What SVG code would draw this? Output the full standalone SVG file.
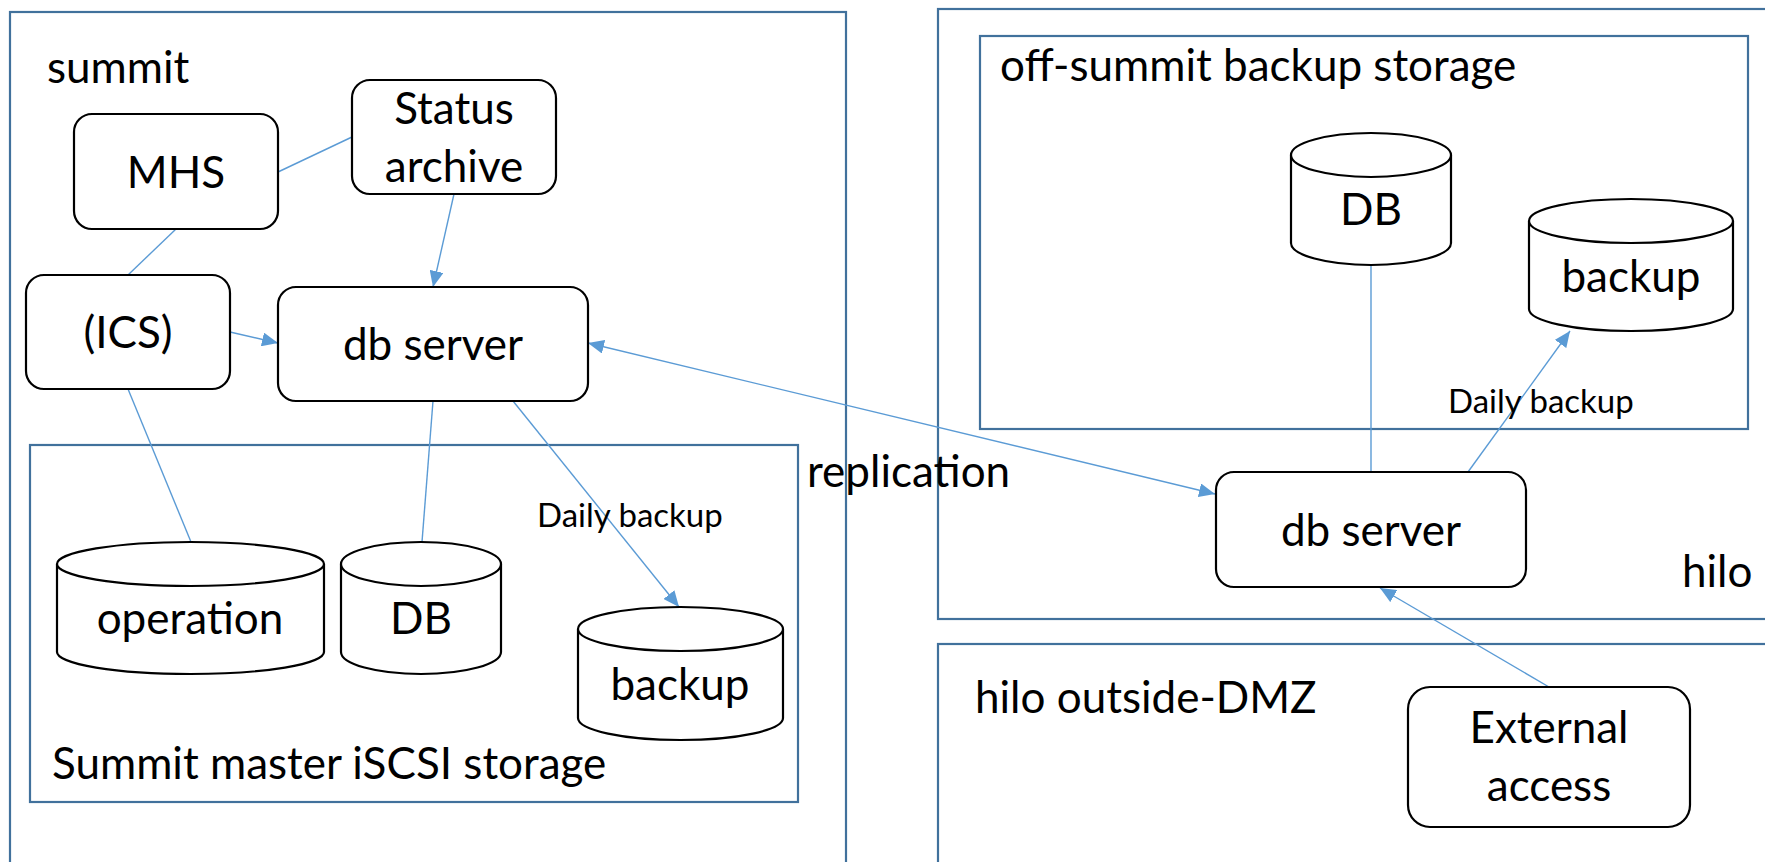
<svg xmlns="http://www.w3.org/2000/svg" width="1765" height="862" viewBox="0 0 1765 862">
<defs>
<style>
.zone{fill:none;stroke:#41719c;stroke-width:2.2}
.box{fill:#fff;stroke:#000;stroke-width:2.2}
.cyl{fill:#fff;stroke:#000;stroke-width:2.2}
.lbl{font-family:Lato,"Liberation Sans",sans-serif;font-size:44px;fill:#000}
.c{text-anchor:middle}
.sm{font-family:Lato,"Liberation Sans",sans-serif;font-size:33px;fill:#000}
.con{fill:none;stroke:#5b9bd5;stroke-width:1.4}
</style>
<marker id="ah" viewBox="0 0 10 10" refX="10" refY="5" markerWidth="11" markerHeight="11" markerUnits="userSpaceOnUse" orient="auto-start-reverse">
<path d="M0,0 L10,5 L0,10 z" fill="#5b9bd5"/>
</marker>
<marker id="ah2" viewBox="0 0 10 10" refX="10" refY="5" markerWidth="16" markerHeight="14" markerUnits="userSpaceOnUse" orient="auto-start-reverse" preserveAspectRatio="none">
<path d="M0,0 L10,5 L0,10 z" fill="#5b9bd5"/>
</marker>
</defs>
<rect width="1765" height="862" fill="#fff"/>

<g id="zone-summit">
<rect class="zone" x="10" y="12" width="836" height="880"/>
<text class="lbl" x="47" y="83">summit</text>
</g>
<g id="zone-iscsi">
<rect class="zone" x="30" y="445" width="768" height="357"/>
<text class="lbl" x="52" y="779">Summit master iSCSI storage</text>
</g>
<g id="zone-hilo">
<rect class="zone" x="938" y="9" width="860" height="610"/>
<text class="lbl" x="1682" y="587">hilo</text>
</g>
<g id="zone-offsummit">
<rect class="zone" x="980" y="36" width="768" height="393"/>
<text class="lbl" x="1000" y="81">off-summit backup storage</text>
</g>
<g id="zone-dmz">
<rect class="zone" x="938" y="644" width="860" height="260"/>
<text class="lbl" x="975" y="713">hilo outside-DMZ</text>
</g>

<g id="connectors">
<line class="con" x1="278" y1="172" x2="352" y2="137"/>
<line class="con" x1="176" y1="229" x2="128" y2="275"/>
<line class="con" x1="230" y1="332" x2="278" y2="343" marker-end="url(#ah2)"/>
<line class="con" x1="454" y1="194" x2="433" y2="287" marker-end="url(#ah2)"/>
<line class="con" x1="128" y1="389" x2="191" y2="542"/>
<line class="con" x1="433" y1="401" x2="422" y2="542"/>
<line class="con" x1="513" y1="401" x2="679" y2="607" marker-end="url(#ah2)"/>
<line class="con" x1="588" y1="343" x2="1215" y2="494" marker-start="url(#ah2)" marker-end="url(#ah2)"/>
<line class="con" x1="1371" y1="265" x2="1371" y2="472"/>
<line class="con" x1="1468" y1="472" x2="1570" y2="331" marker-end="url(#ah2)"/>
<line class="con" x1="1549" y1="687" x2="1380" y2="588" marker-end="url(#ah2)"/>
<text class="sm" x="537" y="527">Daily backup</text>
<text class="sm" x="1448" y="413">Daily backup</text>
<text class="lbl" x="807" y="487">replication</text>
</g>

<g id="node-mhs">
<rect class="box" x="74" y="114" width="204" height="115" rx="18"/>
<text class="lbl c" x="176" y="188">MHS</text>
</g>
<g id="node-status">
<rect class="box" x="352" y="80" width="204" height="114" rx="18"/>
<text class="lbl c" x="454" y="124">Status</text>
<text class="lbl c" x="454" y="182">archive</text>
</g>
<g id="node-ics">
<rect class="box" x="26" y="275" width="204" height="114" rx="18"/>
<text class="lbl c" x="128" y="348">(ICS)</text>
</g>
<g id="node-dbserver-summit">
<rect class="box" x="278" y="287" width="310" height="114" rx="18"/>
<text class="lbl c" x="433" y="360">db server</text>
</g>
<g id="node-operation">
<path class="cyl" d="M57,564 A133.5,22 0 0 1 324,564 V652 A133.5,22 0 0 1 57,652 Z"/>
<path class="cyl" fill="none" d="M57,564 A133.5,22 0 0 0 324,564"/>
<text class="lbl c" x="190" y="634">operation</text>
</g>
<g id="node-db-summit">
<path class="cyl" d="M341,564 A80,22 0 0 1 501,564 V652 A80,22 0 0 1 341,652 Z"/>
<path class="cyl" d="M341,564 A80,22 0 0 0 501,564"/>
<text class="lbl c" x="421" y="634">DB</text>
</g>
<g id="node-backup-summit">
<path class="cyl" d="M578,629 A102.5,22 0 0 1 783,629 V718 A102.5,22 0 0 1 578,718 Z"/>
<path class="cyl" d="M578,629 A102.5,22 0 0 0 783,629"/>
<text class="lbl c" x="680" y="700">backup</text>
</g>
<g id="node-db-offsummit">
<path class="cyl" d="M1291,155 A80,22 0 0 1 1451,155 V243 A80,22 0 0 1 1291,243 Z"/>
<path class="cyl" d="M1291,155 A80,22 0 0 0 1451,155"/>
<text class="lbl c" x="1371" y="225">DB</text>
</g>
<g id="node-backup-offsummit">
<path class="cyl" d="M1529,221 A102,22 0 0 1 1733,221 V309 A102,22 0 0 1 1529,309 Z"/>
<path class="cyl" d="M1529,221 A102,22 0 0 0 1733,221"/>
<text class="lbl c" x="1631" y="292">backup</text>
</g>
<g id="node-dbserver-hilo">
<rect class="box" x="1216" y="472" width="310" height="115" rx="18"/>
<text class="lbl c" x="1371" y="546">db server</text>
</g>
<g id="node-external">
<rect class="box" x="1408" y="687" width="282" height="140" rx="22"/>
<text class="lbl c" x="1549" y="743">External</text>
<text class="lbl c" x="1549" y="801">access</text>
</g>
</svg>
